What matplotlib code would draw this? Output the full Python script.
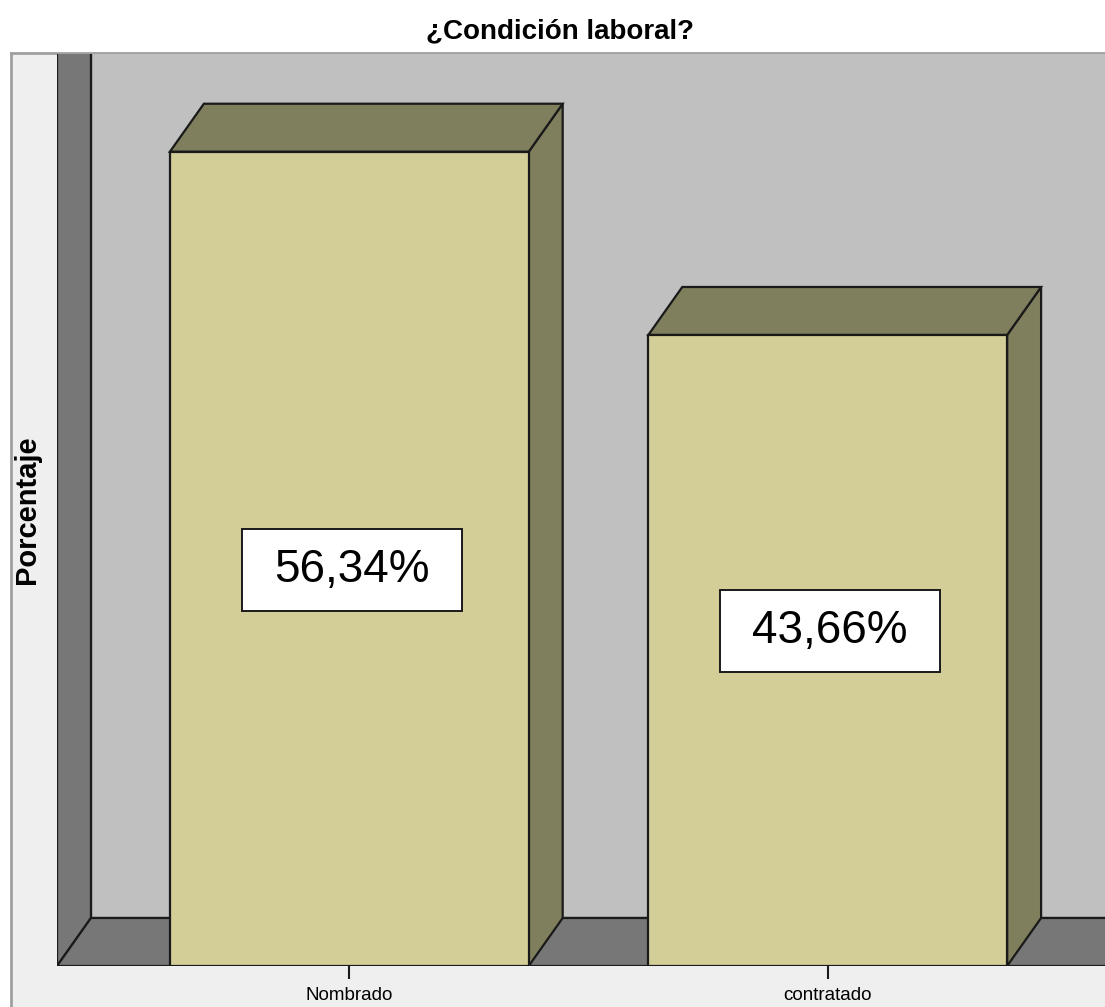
import numpy as np
import matplotlib.pyplot as plt
from matplotlib.patches import Polygon, Rectangle

plt.rcParams['font.family'] = ['Liberation Sans', 'DejaVu Sans']

# datos
categorias = ["Nombrado", "contratado"]
porcentajes = [56.34, 43.66]
etiquetas = ["56,34%", "43,66%"]
titulo = "¿Condición laboral?"
eje_y = "Porcentaje"

# estilo
c_frente = "#d3ce97"
c_lado = "#807f5d"
c_fondo = "#c0c0c0"
c_pared = "#777777"
c_panel = "#efefef"
borde = "#1a1a1a"
ancho = 0.75
dx, dy = 0.071, 3.32          # profundidad 3D en unidades de datos
x0, x1 = -0.611, 1.682
y1 = 63.1
ajuste_etiqueta = [-0.8, 1.35]

W, H = 1105, 1007
fig = plt.figure(figsize=(W / 100, H / 100), dpi=100)

# panel gris claro con borde (solo se ven el lado izquierdo y el superior)
panel = fig.add_axes([11 / W, -0.05, 1.1, 1.05 - 53 / H])
panel.set_xticks([])
panel.set_yticks([])
panel.set_facecolor(c_panel)
for s in panel.spines.values():
    s.set_color("#a0a0a0")
    s.set_linewidth(2)

ax = fig.add_axes([57 / W, (H - 966) / H, (1154 - 57) / W, (966 - 54) / H])
ax.set_zorder(2)
ax.set_xlim(x0, x1)
ax.set_ylim(0, y1)
ax.set_facecolor("none")
for s in ax.spines.values():
    s.set_visible(False)

lw = 1.6
# pared del fondo, pared izquierda y piso
ax.add_patch(Rectangle((x0 + dx, dy), x1 - x0, y1, facecolor=c_fondo, edgecolor=borde, lw=lw))
ax.add_patch(Polygon([(x0, 0), (x0 + dx, dy), (x0 + dx, y1 + 5), (x0, y1 + 5)],
                     facecolor=c_pared, edgecolor=borde, lw=lw))
ax.add_patch(Polygon([(x0, 0), (x1 + 1, 0), (x1 + 1, dy), (x0 + dx, dy)],
                     facecolor=c_pared, edgecolor=borde, lw=lw))

# barras 3D
for i, v in enumerate(porcentajes):
    l, r = i - ancho / 2, i + ancho / 2
    ax.add_patch(Polygon([(r, 0), (r + dx, dy), (r + dx, v + dy), (r, v)],
                         facecolor=c_lado, edgecolor=borde, lw=lw, zorder=3))
    ax.add_patch(Polygon([(l, v), (r, v), (r + dx, v + dy), (l + dx, v + dy)],
                         facecolor=c_lado, edgecolor=borde, lw=lw, zorder=3))
    ax.add_patch(Rectangle((l, 0), ancho, v, facecolor=c_frente, edgecolor=borde, lw=lw, zorder=4))
    yc = v / 2 + ajuste_etiqueta[i]
    ax.add_patch(Rectangle((i + 0.005 - 0.23, yc - 2.84), 0.46, 5.68, facecolor="white",
                           edgecolor=borde, lw=1.4, zorder=5))
    ax.text(i + 0.005, yc, etiquetas[i], ha="center", va="center", fontsize=33, zorder=6)

ax.set_xticks(range(len(categorias)))
ax.set_xticklabels(categorias, fontsize=13.5)
ax.tick_params(axis="x", length=9, width=1.5, color=borde, pad=6)
ax.set_yticks([])

fig.text(27 / W, 1 - 510 / H, eje_y, rotation=90, ha="center", va="center",
         fontsize=21, fontweight="bold")
fig.text(560 / W, 1 - 31 / H, titulo, ha="center", va="center", fontsize=20, fontweight="bold")

fig.savefig("out.png", dpi=100)
